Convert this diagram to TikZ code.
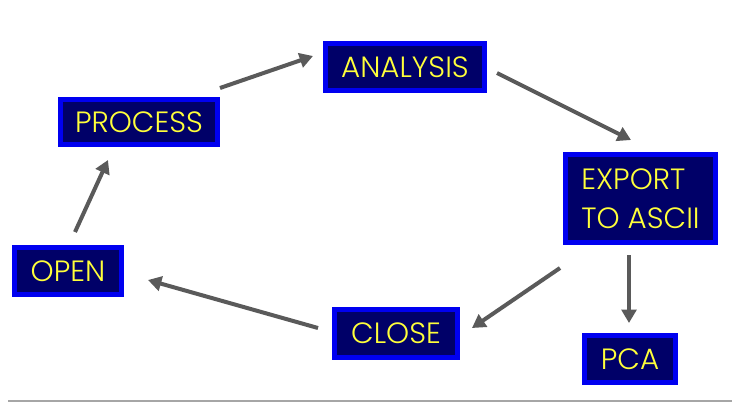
\documentclass[tikz,border=0pt]{standalone}
\usepackage{fontspec}
\setmainfont{Poppins}[UprightFont=* Light]
\usetikzlibrary{arrows.meta}
\definecolor{navy}{HTML}{000068}
\definecolor{bord}{HTML}{0000F0}
\definecolor{txt}{HTML}{FFFF3A}
\definecolor{arr}{HTML}{5A5A5A}
\tikzset{
  box/.style={draw=bord, fill=navy, line width=3.75pt, text=txt, inner sep=0pt,
    font=\fontsize{22}{29}\selectfont},
  conn/.style={draw=arr, line width=3pt, -{Triangle[length=10pt,width=11pt]}}
}
\begin{document}
\begin{tikzpicture}[x=0.75pt,y=-0.75pt]
\useasboundingbox (0,0) rectangle (732,405);
\fill[white] (0,0) rectangle (732,405);
\draw[gray!70, line width=1.6pt] (8,401) -- (732,401);
\node[box, minimum width=159*0.75pt, minimum height=47*0.75pt] (analysis) at (405,67) {ANALYSIS};
\node[box, minimum width=157*0.75pt, minimum height=45*0.75pt] (process) at (139,122) {PROCESS};
\node[box, minimum width=150*0.75pt, minimum height=88*0.75pt, align=left] (export) at (640.5,198.5) {EXPORT\\TO ASCII};
\node[box, minimum width=107*0.75pt, minimum height=47*0.75pt] (open) at (68,271) {OPEN};
\node[box, minimum width=123*0.75pt, minimum height=48*0.75pt] (close) at (396,333.5) {CLOSE};
\node[box, minimum width=91*0.75pt, minimum height=47*0.75pt] (pca) at (630,359) {PCA};
\coordinate (a1s) at (220,88); \coordinate (a1e) at (313,56);
\coordinate (a2s) at (497,73); \coordinate (a2e) at (631,140);
\coordinate (a3s) at (75,232); \coordinate (a3e) at (108,160);
\coordinate (a4s) at (318,328); \coordinate (a4e) at (148,280);
\coordinate (a5s) at (560,268); \coordinate (a5e) at (472,328);
\coordinate (a6s) at (629,255); \coordinate (a6e) at (629,323);
\draw[conn] (a1s) -- (a1e);
\draw[conn] (a2s) -- (a2e);
\draw[conn] (a3s) -- (a3e);
\draw[conn] (a4s) -- (a4e);
\draw[conn] (a5s) -- (a5e);
\draw[conn] (a6s) -- (a6e);
\end{tikzpicture}
\end{document}
